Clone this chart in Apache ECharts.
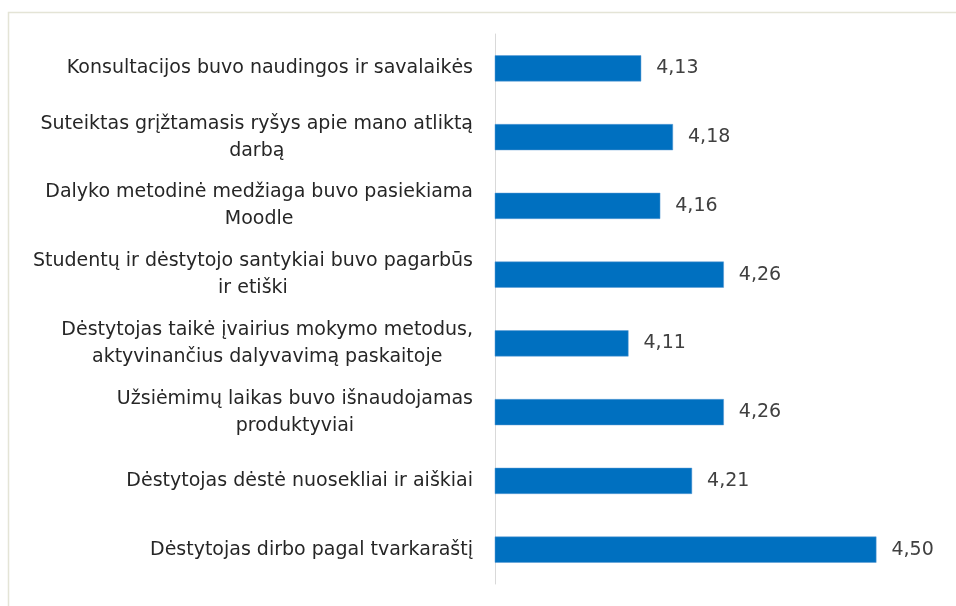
<!DOCTYPE html>
<html>
<head>
<meta charset="utf-8">
<script src="https://cdn.jsdelivr.net/npm/echarts@6/dist/echarts.min.js"></script>
<style>
  html, body { margin: 0; padding: 0; background: #fff; }
  #chart { width: 956px; height: 606px; }
</style>
</head>
<body>
<div id="chart"></div>
<script>
// vertinimo klausimai, iš viršaus į apačią
const categories = [
  'Konsultacijos buvo naudingos ir savalaikės',
  'Suteiktas grįžtamasis ryšys apie mano atliktą\ndarbą',
  'Dalyko metodinė medžiaga buvo pasiekiama\nMoodle',
  'Studentų ir dėstytojo santykiai buvo pagarbūs\nir etiški',
  'Dėstytojas taikė įvairius mokymo metodus,\naktyvinančius dalyvavimą paskaitoje',
  'Užsiėmimų laikas buvo išnaudojamas\nproduktyviai',
  'Dėstytojas dėstė nuosekliai ir aiškiai',
  'Dėstytojas dirbo pagal tvarkaraštį'
]
const scores = [4.13, 4.18, 4.16, 4.26, 4.11, 4.26, 4.21, 4.50]

const chart = echarts.init(document.getElementById('chart'))
const font = 'DejaVu Sans, sans-serif'

chart.setOption({
  backgroundColor: '#fff',
  animation: false,
  graphic: [{
    type: 'rect',
    shape: { x: 8.5, y: 12.5, width: 960, height: 610 },
    style: { fill: 'none', stroke: '#e4e4d6', lineWidth: 1.5 },
    silent: true
  }],
  grid: {
    left: 495,
    right: 16,
    top: 34,
    bottom: 22,
    containLabel: false
  },
  xAxis: {
    type: 'value',
    min: 3.9,
    max: 4.6,
    show: false
  },
  yAxis: {
    type: 'category',
    inverse: true,
    data: categories,
    axisTick: { show: false },
    axisLine: { lineStyle: { color: '#d9d9d9', width: 1 } },
    axisLabel: {
      margin: 22,
      color: '#262626',
      fontSize: 19,
      fontFamily: font,
      lineHeight: 27,
      align: 'right',
      // eilutės centruojamos bloke, kaip Excel
      formatter: v => v.split('\n').map(s => '{c|' + s + '}').join('\n'),
      rich: {
        c: {
          align: 'center',
          color: '#262626',
          fontSize: 19,
          fontFamily: font,
          lineHeight: 27
        }
      }
    }
  },
  series: [{
    type: 'bar',
    data: scores,
    barWidth: '38%',
    itemStyle: {
      color: '#0070c0',
      borderColor: '#5b9bd5',
      borderWidth: 0.5
    },
    label: {
      show: true,
      position: 'right',
      distance: 15,
      color: '#404040',
      fontSize: 19,
      fontFamily: font,
      formatter: p => p.value.toFixed(2).replace('.', ',')
    }
  }]
})
</script>
</body>
</html>
